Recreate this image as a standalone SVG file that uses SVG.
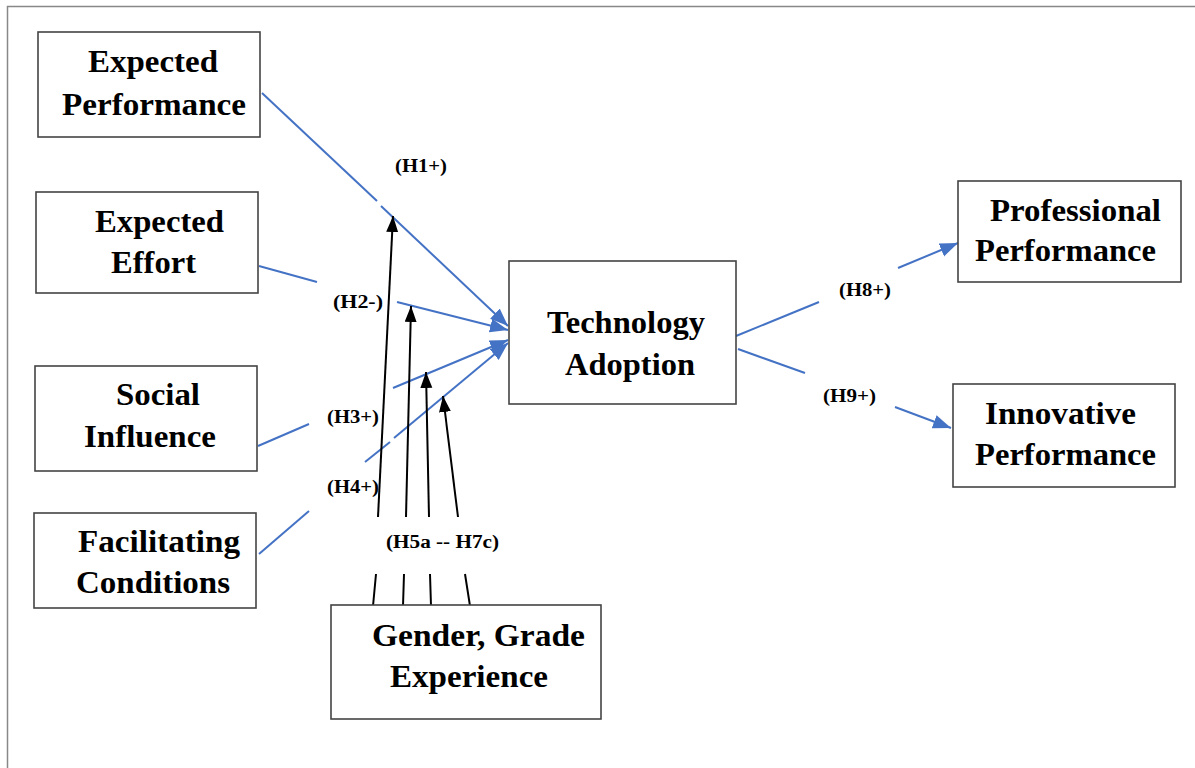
<svg xmlns="http://www.w3.org/2000/svg" width="1195" height="768" viewBox="0 0 1195 768">
  <style>
    .box { fill: #ffffff; stroke: #444444; stroke-width: 1.6; }
    .name { font-family: "Liberation Serif", "Times New Roman", serif; font-weight: bold; font-size: 31px; fill: #000000; }
    .hyp { font-family: "Liberation Serif", "Times New Roman", serif; font-weight: bold; font-size: 18px; fill: #000000; }
    .blue { stroke: #4472C4; stroke-width: 2; fill: none; }
    .black { stroke: #000000; stroke-width: 2; fill: none; }
    .frame { stroke: #888888; stroke-width: 1.5; fill: none; }
  </style>
  <defs>
    <marker id="arrowBlue" markerUnits="userSpaceOnUse" markerWidth="19" markerHeight="15" refX="18" refY="7" orient="auto">
      <path d="M0,0 L18,7 L0,14 z" fill="#4472C4"/>
    </marker>
    <marker id="arrowBlack" markerUnits="userSpaceOnUse" markerWidth="17" markerHeight="13" refX="16" refY="6" orient="auto">
      <path d="M0,0 L16,6 L0,12 z" fill="#000000"/>
    </marker>
  </defs>

  <rect width="1195" height="768" fill="#ffffff"/>
  <!-- page frame -->
  <path class="frame" d="M7.5,768 L7.5,6.5 L1195,6.5"/>

  <!-- connectors -->
  <g id="connectors">
    <!-- H1: Expected Performance -> Technology Adoption -->
    <line class="blue" x1="262" y1="93" x2="377" y2="201"/>
    <line class="blue" x1="381" y1="206" x2="508" y2="326" marker-end="url(#arrowBlue)"/>
    <!-- H2: Expected Effort -> Technology Adoption -->
    <line class="blue" x1="259" y1="266" x2="317" y2="282"/>
    <line class="blue" x1="397" y1="302" x2="508" y2="330" marker-end="url(#arrowBlue)"/>
    <!-- H3: Social Influence -> Technology Adoption -->
    <line class="blue" x1="258" y1="446" x2="309" y2="424"/>
    <line class="blue" x1="393" y1="388" x2="508" y2="340" marker-end="url(#arrowBlue)"/>
    <!-- H4: Facilitating Conditions -> Technology Adoption -->
    <line class="blue" x1="259" y1="554" x2="309" y2="511"/>
    <line class="blue" x1="365" y1="462" x2="390" y2="442"/>
    <line class="blue" x1="394" y1="438" x2="508" y2="343" marker-end="url(#arrowBlue)"/>
    <!-- H8: Technology Adoption -> Professional Performance -->
    <line class="blue" x1="736" y1="336" x2="819" y2="302"/>
    <line class="blue" x1="898" y1="268" x2="958" y2="243" marker-end="url(#arrowBlue)"/>
    <!-- H9: Technology Adoption -> Innovative Performance -->
    <line class="blue" x1="738" y1="349" x2="805" y2="373"/>
    <line class="blue" x1="895" y1="407" x2="951" y2="428" marker-end="url(#arrowBlue)"/>

    <!-- H5a - H7c: moderators -->
    <line class="black" x1="378" y1="517" x2="393" y2="216" marker-end="url(#arrowBlack)"/>
    <line class="black" x1="406" y1="517" x2="411" y2="306" marker-end="url(#arrowBlack)"/>
    <line class="black" x1="429" y1="517" x2="426" y2="372" marker-end="url(#arrowBlack)"/>
    <line class="black" x1="458" y1="517" x2="443" y2="396" marker-end="url(#arrowBlack)"/>
    <line class="black" x1="373" y1="606" x2="376" y2="574"/>
    <line class="black" x1="403" y1="606" x2="404" y2="574"/>
    <line class="black" x1="431" y1="606" x2="430" y2="574"/>
    <line class="black" x1="470" y1="606" x2="465" y2="574"/>
  </g>

  <!-- hypothesis labels -->
  <g id="labels">
    <text class="hyp" x="395" y="172" textLength="52" lengthAdjust="spacingAndGlyphs">(H1+)</text>
    <text class="hyp" x="333" y="308" textLength="50" lengthAdjust="spacingAndGlyphs">(H2-)</text>
    <text class="hyp" x="327" y="423" textLength="52" lengthAdjust="spacingAndGlyphs">(H3+)</text>
    <text class="hyp" x="327" y="493" textLength="52" lengthAdjust="spacingAndGlyphs">(H4+)</text>
    <text class="hyp" x="386" y="548" textLength="113" lengthAdjust="spacingAndGlyphs">(H5a -- H7c)</text>
    <text class="hyp" x="839" y="296" textLength="52" lengthAdjust="spacingAndGlyphs">(H8+)</text>
    <text class="hyp" x="823" y="402" textLength="53" lengthAdjust="spacingAndGlyphs">(H9+)</text>
  </g>

  <g id="expected-performance">
    <rect class="box" x="38" y="32" width="222" height="105"/>
    <text class="name" x="88" y="72" textLength="130" lengthAdjust="spacingAndGlyphs">Expected</text>
    <text class="name" x="62" y="115" textLength="184" lengthAdjust="spacingAndGlyphs">Performance</text>
  </g>

  <g id="expected-effort">
    <rect class="box" x="36" y="192" width="222" height="101"/>
    <text class="name" x="95" y="232" textLength="129" lengthAdjust="spacingAndGlyphs">Expected</text>
    <text class="name" x="111" y="273" textLength="85" lengthAdjust="spacingAndGlyphs">Effort</text>
  </g>

  <g id="social-influence">
    <rect class="box" x="35" y="366" width="222" height="105"/>
    <text class="name" x="116" y="405" textLength="84" lengthAdjust="spacingAndGlyphs">Social</text>
    <text class="name" x="84" y="447" textLength="132" lengthAdjust="spacingAndGlyphs">Influence</text>
  </g>

  <g id="facilitating-conditions">
    <rect class="box" x="34" y="513" width="222" height="95"/>
    <text class="name" x="78" y="552" textLength="162" lengthAdjust="spacingAndGlyphs">Facilitating</text>
    <text class="name" x="76" y="593" textLength="154" lengthAdjust="spacingAndGlyphs">Conditions</text>
  </g>

  <g id="technology-adoption">
    <rect class="box" x="509" y="261" width="227" height="143"/>
    <text class="name" x="547" y="333" textLength="158" lengthAdjust="spacingAndGlyphs">Technology</text>
    <text class="name" x="565" y="375" textLength="130" lengthAdjust="spacingAndGlyphs">Adoption</text>
  </g>

  <g id="gender-grade-experience">
    <rect class="box" x="331" y="605" width="270" height="114"/>
    <text class="name" x="372" y="646" textLength="213" lengthAdjust="spacingAndGlyphs">Gender, Grade</text>
    <text class="name" x="390" y="687" textLength="158" lengthAdjust="spacingAndGlyphs">Experience</text>
  </g>

  <g id="professional-performance">
    <rect class="box" x="958" y="181" width="223" height="101"/>
    <text class="name" x="990" y="221" textLength="171" lengthAdjust="spacingAndGlyphs">Professional</text>
    <text class="name" x="975" y="261" textLength="181" lengthAdjust="spacingAndGlyphs">Performance</text>
  </g>

  <g id="innovative-performance">
    <rect class="box" x="953" y="384" width="222" height="103"/>
    <text class="name" x="985" y="424" textLength="151" lengthAdjust="spacingAndGlyphs">Innovative</text>
    <text class="name" x="975" y="465" textLength="181" lengthAdjust="spacingAndGlyphs">Performance</text>
  </g>
</svg>
